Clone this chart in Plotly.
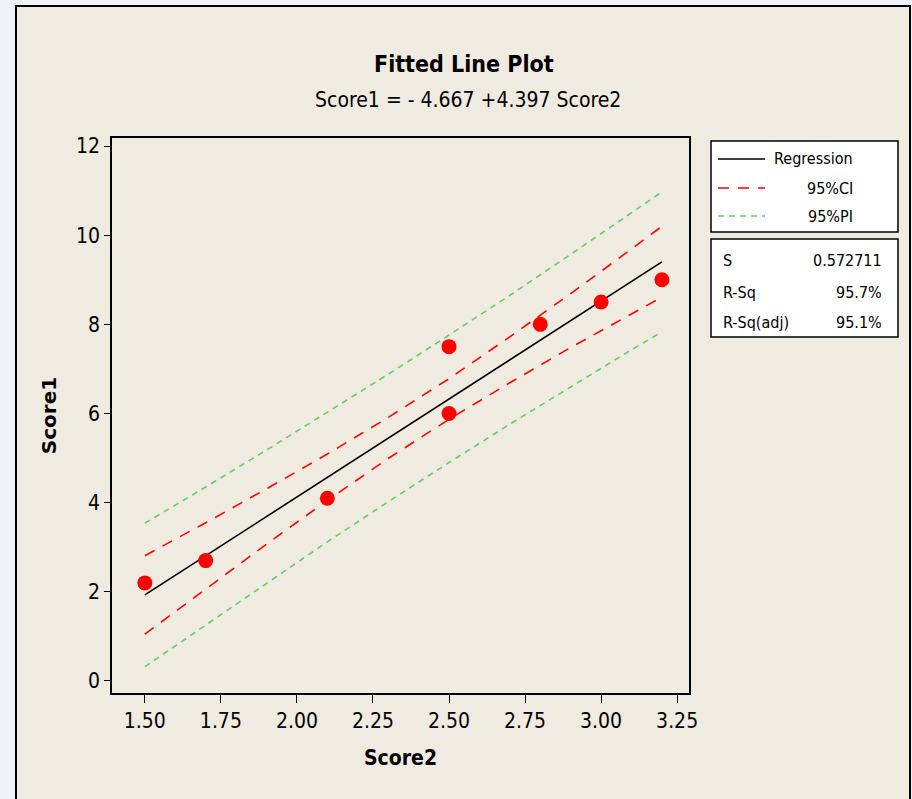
import plotly.graph_objects as go

# Observed data points
score2 = [1.5, 1.7, 2.1, 2.5, 2.5, 2.8, 3.0, 3.2]
score1 = [2.2, 2.7, 4.1, 7.5, 6.0, 8.0, 8.5, 9.0]

# Fitted curve and bands
grid_x = [1.5, 1.7, 1.9, 2.1, 2.3, 2.5, 2.7, 2.9, 3.1, 3.2]
fit_y = [1.93, 2.81, 3.69, 4.57, 5.45, 6.33, 7.21, 8.08, 8.96, 9.40]
ci_upper = [2.81, 3.55, 4.31, 5.09, 5.91, 6.78, 7.72, 8.69, 9.69, 10.20]
ci_lower = [1.05, 2.07, 3.07, 4.05, 4.99, 5.87, 6.69, 7.48, 8.24, 8.61]
pi_upper = [3.54, 4.35, 5.18, 6.02, 6.88, 7.76, 8.65, 9.57, 10.50, 10.97]
pi_lower = [0.32, 1.26, 2.20, 3.12, 4.02, 4.90, 5.76, 6.60, 7.43, 7.83]

x_ticks = [1.50, 1.75, 2.00, 2.25, 2.50, 2.75, 3.00, 3.25]
x_tick_labels = ["1.50", "1.75", "2.00", "2.25", "2.50", "2.75", "3.00", "3.25"]
y_ticks = [0, 2, 4, 6, 8, 10, 12]

legend_labels = ["Regression", "95%CI", "95%PI"]
stat_names = ["S", "R-Sq", "R-Sq(adj)"]
stat_values = ["0.572711", "95.7%", "95.1%"]

FONT = "DejaVu Sans Condensed"
RED = "#ff0000"
GREEN = "#66cc66"

fig = go.Figure()
fig.add_trace(go.Scatter(x=grid_x, y=pi_upper, mode="lines",
                         line=dict(color=GREEN, width=1.6, dash="6px,5px"), showlegend=False))
fig.add_trace(go.Scatter(x=grid_x, y=pi_lower, mode="lines",
                         line=dict(color=GREEN, width=1.6, dash="6px,5px"), showlegend=False))
fig.add_trace(go.Scatter(x=grid_x, y=ci_upper, mode="lines",
                         line=dict(color=RED, width=1.6, dash="11px,9px"), showlegend=False))
fig.add_trace(go.Scatter(x=grid_x, y=ci_lower, mode="lines",
                         line=dict(color=RED, width=1.6, dash="11px,9px"), showlegend=False))
fig.add_trace(go.Scatter(x=grid_x, y=fit_y, mode="lines",
                         line=dict(color="black", width=1.6), showlegend=False))
fig.add_trace(go.Scatter(x=score2, y=score1, mode="markers",
                         marker=dict(color=RED, size=15, line=dict(width=0)), showlegend=False))

L, R, T, B = 112, 689, 138, 693
W, H = 912, 799
pw, ph = R - L, B - T


def px(x):
    return (x - L) / pw


def py(y):
    return (B - y) / ph


shapes = []
# outer panel
shapes.append(dict(type="rect", xref="paper", yref="paper", layer="below",
                   x0=px(16), x1=px(910), y0=py(805), y1=py(6),
                   fillcolor="#f0ebe1", line=dict(color="black", width=2)))
# legend box
shapes.append(dict(type="rect", xref="paper", yref="paper",
                   x0=px(711), x1=px(898), y0=py(232), y1=py(141),
                   line=dict(color="black", width=1.5), fillcolor="white"))
# stats box
shapes.append(dict(type="rect", xref="paper", yref="paper",
                   x0=px(711), x1=px(898), y0=py(337), y1=py(239),
                   line=dict(color="black", width=1.5), fillcolor="white"))
leg_styles = [dict(color="black", width=1.6),
              dict(color=RED, width=1.6, dash="11px,9px"),
              dict(color=GREEN, width=1.6, dash="6px,5px")]
leg_rows = [159, 188, 216]
for yy, st in zip(leg_rows, leg_styles):
    shapes.append(dict(type="line", xref="paper", yref="paper",
                       x0=px(718), x1=px(765), y0=py(yy), y1=py(yy), line=st))

annotations = []
for yy, lab in zip(leg_rows, legend_labels):
    annotations.append(dict(text=lab, xref="paper", yref="paper", x=px(855), y=py(yy),
                            xanchor="right", yanchor="middle", showarrow=False,
                            font=dict(family=FONT, size=16, color="black")))
stat_rows = [260, 292, 322]
for yy, nm, val in zip(stat_rows, stat_names, stat_values):
    annotations.append(dict(text=nm, xref="paper", yref="paper", x=px(721), y=py(yy),
                            xanchor="left", yanchor="middle", showarrow=False,
                            font=dict(family=FONT, size=16, color="black")))
    annotations.append(dict(text=val, xref="paper", yref="paper", x=px(884), y=py(yy),
                            xanchor="right", yanchor="middle", showarrow=False,
                            font=dict(family=FONT, size=16, color="black")))
# titles
annotations.append(dict(text="<b>Fitted Line Plot</b>", xref="paper", yref="paper",
                        x=px(464), y=py(64), xanchor="center", yanchor="middle", showarrow=False,
                        font=dict(family=FONT, size=23, color="black")))
annotations.append(dict(text="Score1 = - 4.667 +4.397 Score2", xref="paper", yref="paper",
                        x=px(468), y=py(100), xanchor="center", yanchor="middle", showarrow=False,
                        font=dict(family=FONT, size=21, color="black")))

fig.update_layout(
    width=W, height=H,
    margin=dict(l=L, r=W - R, t=T, b=H - B),
    paper_bgcolor="#eef2f9",
    plot_bgcolor="white",
    shapes=shapes,
    annotations=annotations,
    showlegend=False,
    font=dict(family=FONT, color="black"),
)
fig.update_xaxes(range=[1.392, 3.289], tickvals=x_ticks, ticktext=x_tick_labels,
                 showgrid=False, zeroline=False, showline=True, linecolor="black", linewidth=1.5,
                 mirror=True, ticks="outside", ticklen=8, tickcolor="black", tickwidth=1.2,
                 tickfont=dict(family=FONT, size=21),
                 title=dict(text="<b>Score2</b>", font=dict(family=FONT, size=21), standoff=18))
fig.update_yaxes(range=[-0.27, 12.18], tickvals=y_ticks,
                 showgrid=False, zeroline=False, showline=True, linecolor="black", linewidth=1.5,
                 mirror=True, ticks="outside", ticklen=6, tickcolor="black", tickwidth=1.2,
                 tickfont=dict(family=FONT, size=21),
                 title=dict(text="<b>Score1</b>", font=dict(family="DejaVu Sans", size=20), standoff=14))

fig.write_html("out.html")
